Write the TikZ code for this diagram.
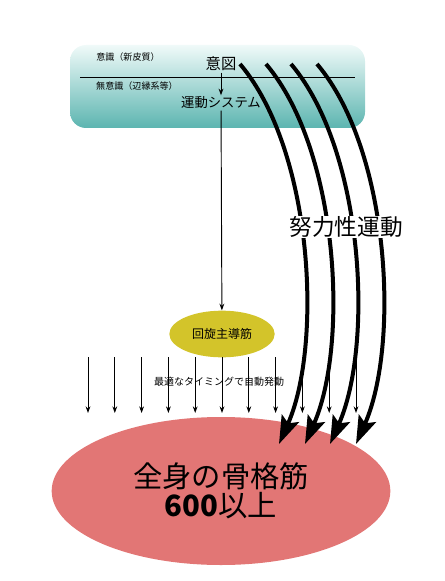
\documentclass[tikz,border=0pt]{standalone}
\usepackage{fontspec}
\newfontfamily\jp{Noto Sans CJK JP}
\definecolor{brainlight}{RGB}{240,250,249}
\definecolor{brainteal}{RGB}{92,181,176}
\definecolor{rotyellow}{RGB}{211,196,42}
\definecolor{musclepink}{RGB}{226,118,117}
\usetikzlibrary{arrows.meta,positioning,shapes.geometric}

\begin{document}
\begin{tikzpicture}[x=0.75pt,y=-0.75pt,
  thinarrow/.style={-{Stealth[length=5pt,width=3.6pt]},line width=0.7pt},
  effort/.style={-{Stealth[length=21pt,width=14pt,inset=4pt]},line width=3pt},
  jplabel/.style={font=\jp\fontsize{#1}{#1}\selectfont,inner sep=1pt}]
\useasboundingbox (0,0) rectangle (444,581);
% brain box
\shade[top color=brainlight,bottom color=brainteal,rounded corners=12pt] (70,45) rectangle (365,128);
\draw[line width=0.6pt] (80,77) -- (355,77);
\node[jplabel=6.8] (conscious) at (128,57) {意識（新皮質）};
\node[jplabel=6.8] (uncon) at (137,86) {無意識（辺縁系等）};
\node[jplabel=11.5] (intent) at (221,64) {意図};
\node[jplabel=10] (motor) at (221,103) {運動システム};
\draw[thinarrow] (intent) -- (motor);
% rotator
\node[ellipse,fill=rotyellow,minimum width=79pt,minimum height=35pt,jplabel=9] (rotator) at (222,334) {回旋主導筋};
\draw[thinarrow] (motor) -- (rotator);
% automatic arrows
\foreach \i in {0,...,10} {
  \coordinate (top\i) at ({88+26.8*\i},357);
  \coordinate (bot\i) at ({88+26.8*\i},413);
  \draw[thinarrow] (top\i) -- (bot\i);
}
\node[jplabel=7.5] (timing) at (219,382) {最適なタイミングで自動発動};
% skeletal muscles
\node[ellipse,fill=musclepink,minimum width=254pt,minimum height=111pt,align=center,jplabel=22] (muscle) at (221,491) {全身の骨格筋\\\textbf{600}以上};
% effortful movement
\foreach \dx [count=\k] in {0,26,51,77} {
  \coordinate (src\k) at ({240+\dx},64);
  \coordinate (tip\k) at ({279+\dx*1.0},444);
  \draw[effort] (src\k) .. controls ({313+\dx},150) and ({323+\dx},345) .. (tip\k);
}
\node[jplabel=17,fill=white,inner sep=0pt] (effortlbl) at (346,227) {努力性運動};
\end{tikzpicture}
\end{document}
